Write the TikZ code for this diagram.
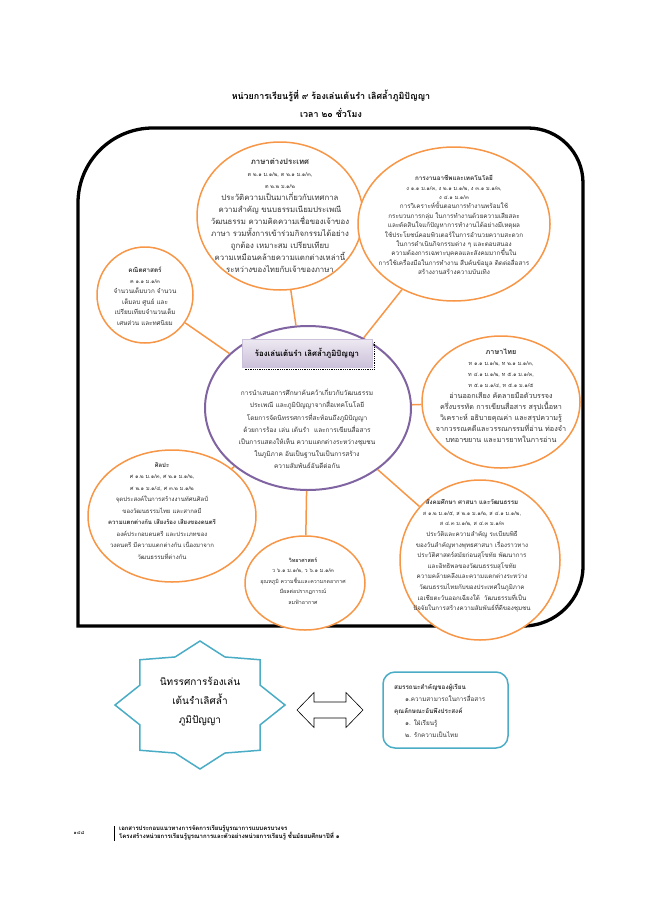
\documentclass[tikz,border=0pt]{standalone}
\usepackage{fontspec}
\setmainfont[Script=Thai]{Loma}
\usepackage{xcolor}
\usepackage{tikz}
\usetikzlibrary{shapes.geometric, calc}
\definecolor{subjorange}{HTML}{F79646}
\definecolor{hubpurple}{HTML}{8064A2}
\definecolor{hublight}{HTML}{CCC1DA}
\definecolor{boxblue}{HTML}{4BACC6}

\tikzset{
  subject/.style={ellipse, draw=subjorange, line width=1.5pt, fill=white, inner sep=0pt},
  hub/.style={ellipse, draw=hubpurple, line width=2pt, fill=white, inner sep=0pt},
  link/.style={subjorange, line width=1.5pt},
  blurb/.style={align=center, inner sep=0pt, text=black!80},
  hubtitle/.style={rectangle, minimum width=130, minimum height=28, top color=hublight!35,
    bottom color=hublight, draw=hublight, font=\fontsize{7.8}{10}\selectfont\bfseries},
  compbox/.style={rectangle, rounded corners=12pt, draw=boxblue, line width=1.5pt,
    minimum width=125, minimum height=76},
  starline/.style={draw=boxblue, line width=1.5pt, line join=miter},
  arrowshape/.style={draw=black, line width=0.6pt, fill=white},
}
\newcommand{\stdline}[1]{{\fontsize{5.5}{8}\selectfont #1}}
\newcommand{\dblarrow}[1]{%
  \draw[arrowshape] ($(#1)+(-33,0)$) -- ($(#1)+(-16,-17.5)$) -- ($(#1)+(-16,-8)$)
    -- ($(#1)+(16,-8)$) -- ($(#1)+(16,-17.5)$) -- ($(#1)+(33,0)$) -- ($(#1)+(16,17.5)$)
    -- ($(#1)+(16,8)$) -- ($(#1)+(-16,8)$) -- ($(#1)+(-16,17.5)$) -- cycle;}

\begin{document}
\begin{tikzpicture}[x=1pt, y=-1pt]
  \useasboundingbox (0,0) rectangle (658,899);

  % heading
  \node[align=center, font=\fontsize{8.9}{18}\selectfont\bfseries] (head) at (331,104)
    {หน่วยการเรียนรู้ที่ ๙ ร้องเล่นเต้นรำ เลิศล้ำภูมิปัญญา\\เวลา ๒๐ ชั่วโมง};

  % frame
  \draw[line width=3.3pt] (78,626) -- (78,203) .. controls (78,161.6) and (111.6,128) .. (153,128)
    -- (528,128) .. controls (558.4,128) and (583,152.6) .. (583,183)
    -- (583,566) .. controls (583,599.1) and (556.1,626) .. (523,626) -- cycle;

  % subjects
  \node[subject, minimum width=166, minimum height=148] (lang) at (280,216) {};
  \node[subject, minimum width=192, minimum height=154] (tech) at (454,224) {};
  \node[subject, minimum width=96,  minimum height=96]  (math) at (145,295) {};
  \node[subject, minimum width=158, minimum height=132] (thai) at (501,402) {};
  \node[subject, minimum width=168, minimum height=132] (art)  at (172,516) {};
  \node[subject, minimum width=160, minimum height=160] (soc)  at (480,560) {};
  \node[subject, minimum width=120, minimum height=94]  (sci)  at (305,583) {};
  \node[hub, minimum width=206, minimum height=164] (hub) at (308,408) {};

  \foreach \s in {lang,tech,math,thai,art,soc,sci}
    \draw[link] (hub) -- (\s);

  \node[blurb, font=\fontsize{7.8}{12}\selectfont] (langtxt) at (280,215)
    {{\bfseries ภาษาต่างประเทศ}\\
     \stdline{ต ๒.๑ ม.๑/๒, ต ๒.๑ ม.๑/๓,}\\
     \stdline{ต ๒.๒ ม.๑/๒}\\
     ประวัติความเป็นมาเกี่ยวกับเทศกาล\\
     ความสำคัญ ขนบธรรมเนียมประเพณี\\
     วัฒนธรรม ความคิดความเชื่อของเจ้าของ\\
     ภาษา รวมทั้งการเข้าร่วมกิจกรรมได้อย่าง\\
     ถูกต้อง เหมาะสม เปรียบเทียบ\\
     ความเหมือนคล้ายความแตกต่างเหล่านี้\\
     ระหว่างของไทยกับเจ้าของภาษา};
  \node[blurb, font=\fontsize{6.3}{9.4}\selectfont] (techtxt) at (454,225)
    {{\bfseries การงานอาชีพและเทคโนโลยี}\\
     \stdline{ง ๑.๑ ม.๑/๓, ง ๒.๑ ม.๑/๒, ง ๓.๑ ม.๑/๓,}\\
     \stdline{ง ๔.๑ ม.๑/๓}\\
     การวิเคราะห์ขั้นตอนการทำงานพร้อมใช้\\
     กระบวนการกลุ่ม ในการทำงานด้วยความเสียสละ\\
     และตัดสินใจแก้ปัญหาการทำงานได้อย่างมีเหตุผล\\
     ใช้ประโยชน์คอมพิวเตอร์ในการอำนวยความสะดวก\\
     ในการดำเนินกิจกรรมต่าง ๆ และตอบสนอง\\
     ความต้องการเฉพาะบุคคลและสังคมมากขึ้นใน\\
     การใช้เครื่องมือในการทำงาน สืบค้นข้อมูล ติดต่อสื่อสาร\\
     สร้างงานสร้างความบันเทิง};
  \node[blurb, font=\fontsize{6.3}{10.5}\selectfont] (mathtxt) at (145,296)
    {{\bfseries คณิตศาสตร์}\\
     \stdline{ค ๑.๑ ม.๑/๓}\\
     จำนวนเต็มบวก จำนวน\\
     เต็มลบ ศูนย์ และ\\
     เปรียบเทียบจำนวนเต็ม\\
     เศษส่วน และทศนิยม};
  \node[blurb, font=\fontsize{7.2}{11}\selectfont] (thaitxt) at (501,396)
    {{\bfseries ภาษาไทย}\\
     \stdline{ท ๑.๑ ม.๑/๒, ท ๒.๑ ม.๑/๓,}\\
     \stdline{ท ๔.๑ ม.๑/๒, ท ๕.๑ ม.๑/๓,}\\
     \stdline{ท ๕.๑ ม.๑/๔, ท ๕.๑ ม.๑/๕}\\
     อ่านออกเสียง คัดลายมือตัวบรรจง\\
     ครึ่งบรรทัด การเขียนสื่อสาร สรุปเนื้อหา\\
     วิเคราะห์ อธิบายคุณค่า และสรุปความรู้\\
     จากวรรณคดีและวรรณกรรมที่อ่าน ท่องจำ\\
     บทอาขยาน และมารยาทในการอ่าน};
  \node[blurb, font=\fontsize{6}{11.5}\selectfont] (arttxt) at (162,511)
    {{\bfseries ศิลปะ}\\
     \stdline{ศ ๑.๒ ม.๑/๓, ศ ๒.๑ ม.๑/๒,}\\
     \stdline{ศ ๒.๑ ม.๑/๔, ศ ๓.๒ ม.๑/๒}\\
     จุดประสงค์ในการสร้างงานทัศนศิลป์\\
     ของวัฒนธรรมไทย และสากลมี\\
     {\bfseries ความแตกต่างกัน เสียงร้อง เสียงของดนตรี}\\
     องค์ประกอบดนตรี และประเภทของ\\
     วงดนตรี มีความแตกต่างกัน เนื่องมาจาก\\
     วัฒนธรรมที่ต่างกัน};
  \node[blurb, font=\fontsize{6.2}{10.6}\selectfont] (soctxt) at (472,556)
    {{\bfseries สังคมศึกษา ศาสนา และวัฒนธรรม}\\
     \stdline{ส ๑.๒ ม.๑/๕, ส ๒.๑ ม.๑/๒, ส ๔.๑ ม.๑/๒,}\\
     \stdline{ส ๔.๓ ม.๑/๒, ส ๔.๓ ม.๑/๓}\\
     ประวัติและความสำคัญ ระเบียบพิธี\\
     ของวันสำคัญทางพุทธศาสนา เรื่องราวทาง\\
     ประวัติศาสตร์สมัยก่อนสุโขทัย พัฒนาการ\\
     และอิทธิพลของวัฒนธรรมสุโขทัย\\
     ความคล้ายคลึงและความแตกต่างระหว่าง\\
     วัฒนธรรมไทยกับของประเทศในภูมิภาค\\
     เอเชียตะวันออกเฉียงใต้ \ วัฒนธรรมที่เป็น\\
     ปัจจัยในการสร้างความสัมพันธ์ที่ดีของชุมชน};
  \node[blurb, font=\fontsize{5.3}{10.5}\selectfont] (scitxt) at (303,581)
    {{\bfseries วิทยาศาสตร์}\\
     \stdline{ว ๖.๑ ม.๑/๒, ว ๖.๑ ม.๑/๓}\\
     อุณหภูมิ ความชื้นและความกดอากาศ\\
     มีผลต่อปรากฏการณ์\\
     ลมฟ้าอากาศ};

  % hub
  \node[hubtitle] (hubhead) at (307,353) {ร้องเล่นเต้นรำ เลิศล้ำภูมิปัญญา};
  \draw[densely dotted, line width=0.8pt] ([xshift=2pt, yshift=-3pt]hubhead.north east)
    -- ([xshift=2pt, yshift=-2pt]hubhead.south east) -- ([xshift=3pt, yshift=-2pt]hubhead.south west);
  \node[blurb, font=\fontsize{6.5}{12.2}\selectfont] (hubtxt) at (307,429)
    {การนำเสนอการศึกษาค้นคว้าเกี่ยวกับวัฒนธรรม\\
     ประเพณี และภูมิปัญญาจากสื่อเทคโนโลยี\\
     โดยการจัดนิทรรศการที่สะท้อนถึงภูมิปัญญา\\
     ด้วยการร้อง เล่น เต้นรำ \ และการเขียนสื่อสาร\\
     เป็นการแสดงให้เห็น ความแตกต่างระหว่างชุมชน\\
     ในภูมิภาค อันเป็นฐานในเป็นการสร้าง\\
     ความสัมพันธ์อันดีต่อกัน};

  % exhibition star, arrow, competency box
  \coordinate (starc) at (200,705);
  \draw[starline] ($(starc)+(0:85pt and 64pt)$)
    \foreach \a in {0,45,...,270} { -- ($(starc)+(\a+22.5:65pt and 52pt)$) -- ($(starc)+(\a+45:85pt and 64pt)$) }
    -- ($(starc)+(337.5:65pt and 52pt)$) -- cycle;
  \node[align=center, font=\fontsize{10}{19}\selectfont] (startxt) at (200,702)
    {นิทรรศการร้องเล่น\\เต้นรำเลิศล้ำ\\ภูมิปัญญา};

  \coordinate (arrA) at (330,710);
  \dblarrow{arrA}

  \node[compbox] (comp) at (445.5,710) {};
  \node[align=left, anchor=west, inner sep=0pt, text=black!80, font=\fontsize{6.3}{12}\selectfont] (comptxt) at (394,711)
    {{\bfseries สมรรถนะสำคัญของผู้เรียน}\\
     \hspace*{11pt}๑.ความสามารถในการสื่อสาร\\
     {\bfseries คุณลักษณะอันพึงประสงค์}\\
     \hspace*{11pt}๑. ใฝ่เรียนรู้\\
     \hspace*{11pt}๒. รักความเป็นไทย};

  % footer
  \node[font=\fontsize{5}{6}\selectfont] (pageno) at (79,833) {๑๔๘};
  \draw[line width=0.5pt] (114,826) -- (114,841);
  \node[anchor=west, align=left, inner sep=0pt, font=\fontsize{6}{8}\selectfont\bfseries] (foot) at (119,833)
    {เอกสารประกอบแนวทางการจัดการเรียนรู้บูรณาการแบบครบวงจร\\
     โครงสร้างหน่วยการเรียนรู้บูรณาการและตัวอย่างหน่วยการเรียนรู้ ชั้นมัธยมศึกษาปีที่ ๑};
\end{tikzpicture}
\end{document}
